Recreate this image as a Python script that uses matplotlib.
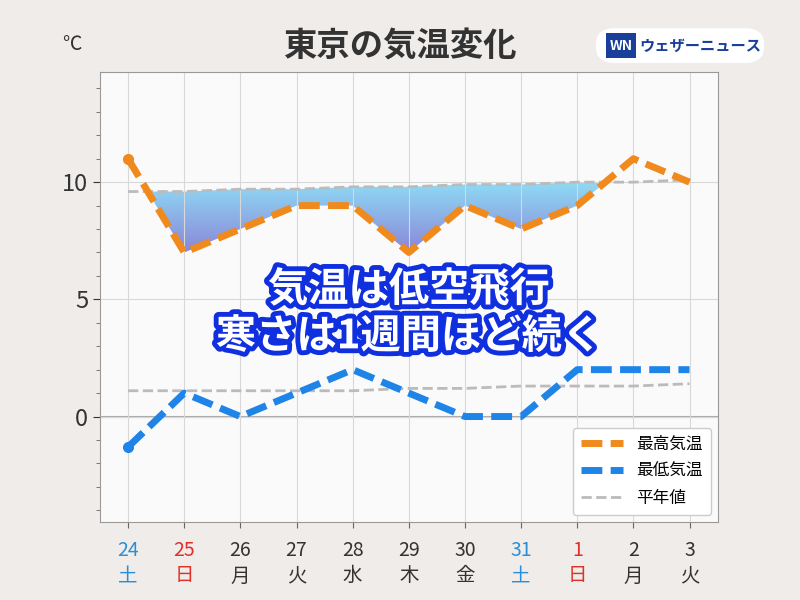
import matplotlib
matplotlib.use("Agg")
import matplotlib.pyplot as plt
import matplotlib.patheffects as pe
from matplotlib.patches import FancyBboxPatch, Polygon
from matplotlib.colors import LinearSegmentedColormap
import numpy as np

plt.rcParams['font.family'] = ['Noto Sans CJK JP', 'DejaVu Sans']

days = ['24', '25', '26', '27', '28', '29', '30', '31', '1', '2', '3']
weekdays = ['土', '日', '月', '火', '水', '木', '金', '土', '日', '月', '火']
day_colors = ['#2a8fd8', '#e0302a', '#333333', '#333333', '#333333', '#333333', '#333333', '#2a8fd8', '#e0302a', '#333333', '#333333']
tmax = [11, 7, 8, 9, 9, 7, 9, 8, 9, 11, 10]
tmin = [-1.3, 1, 0, 1, 2, 1, 0, 0, 2, 2, 2]
nmax = [9.6, 9.6, 9.7, 9.7, 9.8, 9.8, 9.9, 9.9, 10.0, 10.0, 10.1]
nmin = [1.1, 1.1, 1.1, 1.1, 1.1, 1.2, 1.2, 1.3, 1.3, 1.3, 1.4]

x = np.arange(len(days))
fig = plt.figure(figsize=(8, 6), dpi=100, facecolor='#efecea')
ax = fig.add_axes([0.125, 0.13, 0.772, 0.75])
ax.set_facecolor('#fbfafb')
ax.set_xlim(-0.5, 10.5)
ax.set_ylim(-4.5, 14.7)

xf = np.linspace(0, 10, 2001)
ymx = np.interp(xf, x, tmax)
ynm = np.interp(xf, x, nmax)
mask = ymx < ynm
top = np.where(mask, ynm, ymx)
verts = list(zip(xf, top)) + list(zip(xf[::-1], ymx[::-1]))
poly = Polygon(verts, closed=True, facecolor='none', edgecolor='none')
ax.add_patch(poly)
grad = np.linspace(0, 1, 256).reshape(-1, 1)
cmap = LinearSegmentedColormap.from_list('g', ['#8a86d8', '#8fdcf5'])
im = ax.imshow(grad, extent=[0, 10, 7, 10], origin='lower', aspect='auto', cmap=cmap, zorder=1)
im.set_clip_path(poly)

ax.grid(True, color='#d8d8d8', lw=0.8)
ax.axhline(0, color='#aaaaaa', lw=1.5, zorder=1)
ax.set_yticks([0, 5, 10])
ax.set_yticks(np.arange(-4, 15, 1), minor=True)
ax.set_xticks(x)
ax.set_xticklabels([])
ax.tick_params(axis='y', labelsize=17, colors='#333333', length=5)
ax.tick_params(axis='y', which='minor', length=3, colors='#666666')
ax.tick_params(axis='x', length=4, colors='#666666')
for s in ax.spines.values():
    s.set_color('#999999')

ax.plot(x, nmax, color='#bbbbbb', lw=2, ls='--', zorder=2)
ax.plot(x, nmin, color='#bbbbbb', lw=2, ls='--', zorder=2)
l1, = ax.plot(x, tmax, color='#f08a1c', lw=5, ls=(0, (3, 1.2)), zorder=3)
l2, = ax.plot(x, tmin, color='#1e84e8', lw=5, ls=(0, (3, 1.2)), zorder=3)
ax.plot(x[0], tmax[0], 'o', color='#f08a1c', ms=7, zorder=4)
ax.plot(x[0], tmin[0], 'o', color='#1e84e8', ms=7, zorder=4)
l3, = ax.plot([], [], color='#bbbbbb', lw=2, ls='--')
ax.legend([l1, l2, l3], ['最高気温', '最低気温', '平年値'], loc='lower right', fontsize=12,
          handlelength=2.5, borderpad=0.5, labelspacing=0.6, framealpha=1, edgecolor='#cccccc',
          bbox_to_anchor=(1.0, 0.0), borderaxespad=0.4)

for i in x:
    ax.text(i, -5.7, days[i], ha='center', va='center', fontsize=14, color=day_colors[i])
    ax.text(i, -6.8, weekdays[i], ha='center', va='center', fontsize=14, color=day_colors[i])

fig.text(0.5, 0.922, '東京の気温変化', ha='center', va='center', fontsize=24, fontweight='bold', color='#333333')
fig.text(0.09, 0.925, '℃', ha='center', va='center', fontsize=14, color='#333333')

box = FancyBboxPatch((0.745, 0.895), 0.21, 0.058, boxstyle='round,pad=0,rounding_size=0.025',
                     transform=fig.transFigure, facecolor='white', edgecolor='none')
fig.patches.append(box)
fig.patches.append(FancyBboxPatch((0.757, 0.903), 0.038, 0.042, boxstyle='square,pad=0',
                     transform=fig.transFigure, facecolor='#1a3f9a', edgecolor='none'))
fig.text(0.776, 0.924, 'WN', ha='center', va='center', fontsize=10, fontweight='bold', color='white', style='italic')
fig.text(0.875, 0.924, 'ウェザーニュース', ha='center', va='center', fontsize=11, fontweight='bold', color='#1a3f9a')

eff = [pe.withStroke(linewidth=7, foreground='#1030e0')]
ax.text(5, 5.4, '気温は低空飛行', ha='center', va='center', fontsize=29, fontweight='bold', color='white', path_effects=eff, zorder=6)
ax.text(5, 3.4, '寒さは1週間ほど続く', ha='center', va='center', fontsize=29, fontweight='bold', color='white', path_effects=eff, zorder=6)

fig.savefig('out.png', dpi=100, facecolor=fig.get_facecolor())
